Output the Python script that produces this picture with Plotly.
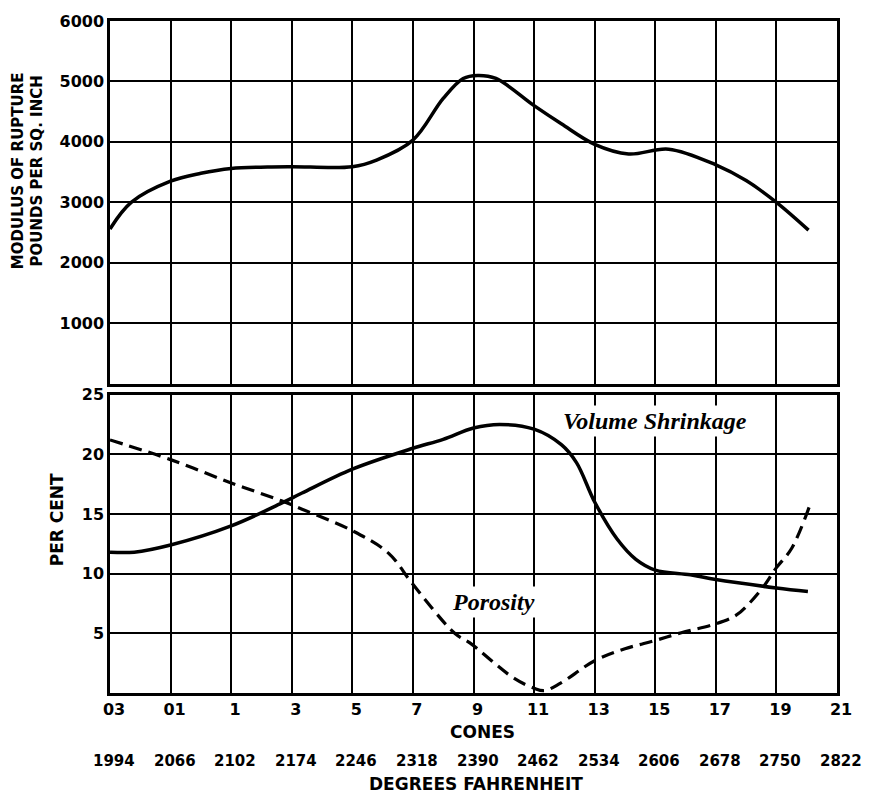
import plotly.graph_objects as go

# ---- data ----
cone_labels = ["03", "01", "1", "3", "5", "7", "9", "11", "13", "15", "17", "19", "21"]
fahrenheit = ["1994", "2066", "2102", "2174", "2246", "2318", "2390",
              "2462", "2534", "2606", "2678", "2750", "2822"]
cone_pos = list(range(len(cone_labels)))

modulus_x = [0, 0.35, 1, 1.5, 2, 2.6, 3, 4, 4.4, 5, 5.5, 5.83, 6.07, 6.37, 7, 7.45,
             8, 8.56, 9.22, 10, 10.5, 11, 11.53]
modulus_y = [2560, 3000, 3350, 3480, 3560, 3585, 3590, 3590, 3700, 4030, 4720, 5050,
             5100, 5050, 4600, 4300, 3960, 3800, 3880, 3620, 3360, 3000, 2540]

shrink_x = [0, 0.4, 1, 2, 2.83, 3.17, 4, 5, 5.5, 6, 6.43, 7, 7.45, 7.7, 8, 8.37,
            8.68, 9, 9.58, 10, 11, 11.52]
shrink_y = [11.8, 11.8, 12.4, 14.0, 15.9, 16.75, 18.75, 20.5, 21.25, 22.2, 22.5,
            22.1, 20.8, 19.3, 16.0, 12.9, 11.2, 10.3, 9.9, 9.5, 8.8, 8.5]

poros_x = [0, 1, 2, 2.83, 3.17, 4, 4.6, 5, 5.69, 5.94, 6.65, 7, 7.17, 7.43, 8,
           8.5, 9, 9.43, 10, 10.33, 10.55, 10.77, 11, 11.25, 11.55]
poros_y = [21.2, 19.55, 17.6, 16.1, 15.4, 13.6, 11.7, 9.1, 5.0, 4.2, 1.3, 0.4, 0.2,
           0.8, 2.7, 3.7, 4.4, 5.05, 5.8, 6.5, 7.5, 8.8, 10.5, 12.1, 15.7]

mod_ticks = [1000, 2000, 3000, 4000, 5000, 6000]
pct_ticks = [5, 10, 15, 20, 25]

SANS = "DejaVu Sans"
SERIF = "Liberation Serif"
TICKFONT = dict(family=SANS, size=16, color="black", weight="bold")

fig = go.Figure()
fig.add_trace(go.Scatter(x=modulus_x, y=modulus_y, mode="lines",
                         line=dict(color="black", width=3.5, shape="spline", smoothing=1.0),
                         xaxis="x", yaxis="y", showlegend=False))
fig.add_trace(go.Scatter(x=shrink_x, y=shrink_y, mode="lines",
                         line=dict(color="black", width=3.5, shape="spline", smoothing=1.0),
                         xaxis="x2", yaxis="y2", showlegend=False))
fig.add_trace(go.Scatter(x=poros_x, y=poros_y, mode="lines",
                         line=dict(color="black", width=3.2, shape="spline", smoothing=1.0,
                                   dash="13px,7px"),
                         xaxis="x2", yaxis="y2", showlegend=False))

common_axis = dict(showline=True, linecolor="black", linewidth=2.5, mirror=True,
                   showgrid=True, gridcolor="black", gridwidth=1.5, zeroline=False,
                   ticks="", fixedrange=True)

fig.update_layout(
    width=884, height=795,
    margin=dict(l=110, r=47, t=13, b=102),
    paper_bgcolor="white", plot_bgcolor="white",
    xaxis=dict(domain=[0, 1], range=[0, 12], anchor="y", tickvals=cone_pos,
               showticklabels=False, **common_axis),
    yaxis=dict(domain=[0.4603, 1], range=[0, 6000], anchor="x", tickvals=mod_ticks,
               ticktext=[str(v) for v in mod_ticks], tickfont=TICKFONT, **common_axis),
    xaxis2=dict(domain=[0, 1], range=[0, 12], anchor="y2", tickvals=cone_pos,
                ticktext=cone_labels, tickfont=dict(TICKFONT, size=16),
                ticklabelshift=4, **common_axis),
    yaxis2=dict(domain=[0, 0.4441], range=[0, 25], anchor="x2", tickvals=pct_ticks,
                ticktext=[str(v) for v in pct_ticks], tickfont=TICKFONT, **common_axis),
)

def txt(text, x, y, size, xref="paper", yref="paper", **kw):
    d = dict(text=text, xref=xref, yref=yref, x=x, y=y, showarrow=False,
             xanchor="center", yanchor="middle",
             font=dict(family=SANS, size=size, color="black", weight="bold"))
    d.update(kw)
    return d

ann = []
ann.append(txt("MODULUS OF RUPTURE<br>POUNDS PER SQ. INCH", -0.1128, 0.778, 15,
               textangle=-90))
ann.append(txt("PER CENT", -0.0729, 0.257, 17, textangle=-90))
ann.append(txt("CONES", 0.512, -0.0574, 17))
ann.append(txt("DEGREES FAHRENHEIT", 0.503, -0.1353, 17))
for pos, f in zip(cone_pos, fahrenheit):
    ann.append(txt(f, pos, -0.1015, 15, xref="x2", xshift=4))
ann.append(dict(text="<i>Volume Shrinkage</i>", xref="x2", yref="y2", x=9.0, y=22.8,
                showarrow=False, bgcolor="white", borderpad=2,
                xanchor="center", yanchor="middle",
                font=dict(family=SERIF, size=24, color="black", weight="bold")))
ann.append(dict(text="<i>Porosity</i>", xref="x2", yref="y2", x=6.33, y=7.6,
                showarrow=False, bgcolor="white", borderpad=2,
                xanchor="center", yanchor="middle",
                font=dict(family=SERIF, size=24, color="black", weight="bold")))
fig.update_layout(annotations=ann)

fig.write_html("out.html")
